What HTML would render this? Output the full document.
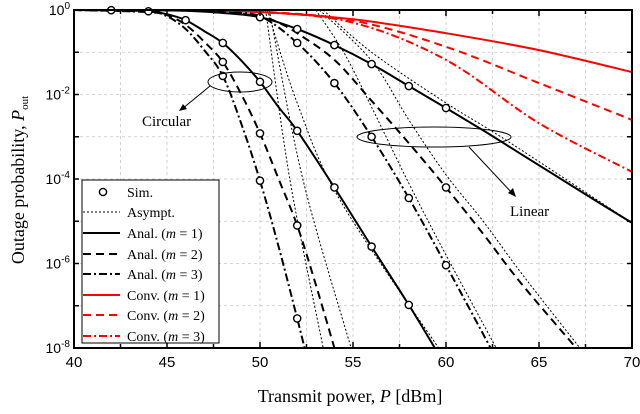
<!DOCTYPE html>
<html><head><meta charset="utf-8"><style>
body{margin:0;background:#fff}
svg text{font-family:"Liberation Serif",serif;fill:#000}
</style></head><body>
<svg id="c" width="640" height="409" viewBox="0 0 640 409" xmlns="http://www.w3.org/2000/svg">
<g id="grid"></g><g id="series"></g><g id="axes"></g><g id="ann"></g><g id="legend"></g>
</svg>
<script>
const xTicks=[40,45,50,55,60,65,70];
const yTickExp=[0,-2,-4,-6,-8];
// circular group (log10 Pout)
const circM1X=[40,42,44,45,46,47,48,49,50,51,52,54,56,58,59.4];
const circM1Y=[0,-0.005,-0.03,-0.1,-0.24,-0.5,-0.78,-1.2,-1.7,-2.3,-2.86,-4.2,-5.6,-6.98,-8];
const circM2X=[40,44,45,46,47,48,49,50,51,52,53,54];
const circM2Y=[0,-0.04,-0.12,-0.35,-0.75,-1.23,-2.0,-2.92,-4.0,-5.1,-6.5,-8];
const circM3X=[40,44,45,46,47,48,49,50,51,52,52.4];
const circM3Y=[0,-0.05,-0.15,-0.45,-0.95,-1.56,-2.7,-4.04,-5.6,-7.3,-8];
const circA1X=[50.4,52,54.3,59.6];const circA1Y=[0,-2.2,-4.5,-8];
const circA2X=[50.5,52.3,54.9];const circA2Y=[0,-4,-8];
const circA3X=[50.3,51.6,53.4];const circA3Y=[0,-4,-8];
// linear group
const linM1X=[40,44,46,48,50,52,54,56,58,60,62,64,66,68,70];
const linM1Y=[0,-0.005,-0.02,-0.07,-0.17,-0.45,-0.83,-1.28,-1.8,-2.32,-2.85,-3.4,-3.95,-4.5,-5.04];
const linM2X=[40,46,48,50,51,52,54,56,58,60,62,64,67];
const linM2Y=[0,-0.01,-0.05,-0.15,-0.3,-0.55,-1.18,-2.15,-3.15,-4.2,-5.3,-6.45,-8];
const linM3X=[40,46,48,50,52,54,56,58,60,62.4];
const linM3Y=[0,-0.01,-0.05,-0.15,-0.78,-1.73,-3.0,-4.45,-6.04,-8];
const linA1X=[53.4,56,60,63.3,70];const linA1Y=[0,-1.0,-2.2,-3.1,-5.04];
const linA2X=[53.2,56,58,60,62,64,67.2];const linA2Y=[0,-1.2,-2.6,-3.9,-5.0,-6.2,-8];
const linA3X=[53.0,54.5,56,58,60,62.7];const linA3Y=[0,-1.0,-2.3,-4.1,-5.8,-8];
// conventional
const convX=[40,45,50,55,60,65,70];
const conv1Y=[0,-0.01,-0.05,-0.22,-0.55,-0.95,-1.47];
const conv2Y=[0,-0.01,-0.04,-0.25,-0.87,-1.73,-2.6];
const conv3Y=[0,-0.01,-0.05,-0.3,-1.18,-2.68,-3.83];
// simulation markers
const simCircM1X=[42,44,46,48,50,52,54,56,58];
const simCircM2X=[48,50,52];
const simCircM3X=[48,50,52];
const simLinM1X=[50,52,54,56,58,60];
const simLinM2X=[60];
const simLinM3X=[52,54,56,58,60];

const L=74,R=632,T=10,B=348;
const sx=v=>L+(v-40)*(R-L)/30;
const sy=e=>T+(-e)*(B-T)/8;
const NS="http://www.w3.org/2000/svg";
function mk(tag,attrs,parent){const e=document.createElementNS(NS,tag);for(const k in attrs)e.setAttribute(k,attrs[k]);document.getElementById(parent).appendChild(e);return e;}
function interp(xs,ys,x){for(let i=0;i<xs.length-1;i++){if(x>=xs[i]&&x<=xs[i+1]){return ys[i]+(ys[i+1]-ys[i])*(x-xs[i])/(xs[i+1]-xs[i]);}}return ys[ys.length-1];}

for(let v=40;v<=70;v+=2.5){const l=mk('line',{x1:sx(v),x2:sx(v),y1:T,y2:B,stroke:'#c8c8c8','stroke-width':0.8,'stroke-dasharray':'3,3'},'grid');

}
for(let e=-1;e>=-7;e--){const l=mk('line',{x1:L,x2:R,y1:sy(e),y2:sy(e),stroke:'#c8c8c8','stroke-width':0.8,'stroke-dasharray':'3,3'},'grid');

}

function line(xs,ys,color,dash,w,name){
  const P=xs.map((x,i)=>[sx(x),sy(ys[i])]);
  let d='M'+P[0][0].toFixed(1)+','+P[0][1].toFixed(1);
  for(let i=0;i<P.length-1;i++){
    const p0=P[Math.max(0,i-1)],p1=P[i],p2=P[i+1],p3=P[Math.min(P.length-1,i+2)];
    const c1=[p1[0]+(p2[0]-p0[0])/6,p1[1]+(p2[1]-p0[1])/6];
    const c2=[p2[0]-(p3[0]-p1[0])/6,p2[1]-(p3[1]-p1[1])/6];
    d+='C'+c1.map(v=>v.toFixed(1)).join(',')+' '+c2.map(v=>v.toFixed(1)).join(',')+' '+p2.map(v=>v.toFixed(1)).join(',');
  }
  const p=mk('path',{d:d,fill:'none',stroke:color,'stroke-width':w,'stroke-dasharray':dash,'stroke-linejoin':'round'},'series');
  
  
}
line(circA1X,circA1Y,'#000','2,2',1,'asympt-circular-m1');
line(circA2X,circA2Y,'#000','2,2',1,'asympt-circular-m2');
line(circA3X,circA3Y,'#000','2,2',1,'asympt-circular-m3');
line(linA1X,linA1Y,'#000','2,2',1,'asympt-linear-m1');
line(linA2X,linA2Y,'#000','2,2',1,'asympt-linear-m2');
line(linA3X,linA3Y,'#000','2,2',1,'asympt-linear-m3');
line(convX,conv1Y,'#f00','',2,'conv-m1');
line(convX,conv2Y,'#f00','8,5',2,'conv-m2');
line(convX,conv3Y,'#f00','8,3,2,3',2,'conv-m3');
line(circM1X,circM1Y,'#000','',2,'anal-circular-m1');
line(circM2X,circM2Y,'#000','8,5',2,'anal-circular-m2');
line(circM3X,circM3Y,'#000','8,3,2,3',2,'anal-circular-m3');
line(linM1X,linM1Y,'#000','',2,'anal-linear-m1');
line(linM2X,linM2Y,'#000','8,5',2,'anal-linear-m2');
line(linM3X,linM3Y,'#000','8,3,2,3',2,'anal-linear-m3');

function sims(xs,cx,cy,name){xs.forEach(x=>{const c=mk('circle',{cx:sx(x),cy:sy(interp(cx,cy,x)),r:3.6,fill:'#fff',stroke:'#000','stroke-width':1.4},'series');

});}
sims(simCircM1X,circM1X,circM1Y,'sim-marker-circular-m1');
sims(simCircM2X,circM2X,circM2Y,'sim-marker-circular-m2');
sims(simCircM3X,circM3X,circM3Y,'sim-marker-circular-m3');
sims(simLinM1X,linM1X,linM1Y,'sim-marker-linear-m1');
sims(simLinM2X,linM2X,linM2Y,'sim-marker-linear-m2');
sims(simLinM3X,linM3X,linM3Y,'sim-marker-linear-m3');

const fr=mk('rect',{x:L,y:T,width:R-L,height:B-T,fill:'none',stroke:'#000','stroke-width':2},'axes');


for(let v=40;v<=70;v+=2.5){const len=(v%5===0)?6:4;mk('line',{x1:sx(v),x2:sx(v),y1:B,y2:B-len,stroke:'#000','stroke-width':1.5},'axes');mk('line',{x1:sx(v),x2:sx(v),y1:T,y2:T+len,stroke:'#000','stroke-width':1.5},'axes');}
for(let e=0;e>=-8;e--){mk('line',{x1:L,x2:L+5,y1:sy(e),y2:sy(e),stroke:'#000','stroke-width':1.5},'axes');mk('line',{x1:R,x2:R-5,y1:sy(e),y2:sy(e),stroke:'#000','stroke-width':1.5},'axes');}
xTicks.forEach(v=>{const t=mk('text',{x:sx(v),y:B+19,'text-anchor':'middle','font-size':15,style:'font-family:"Liberation Sans",sans-serif'},'axes');t.textContent=v;

});
yTickExp.forEach(e=>{const t=mk('text',{x:L-4,y:sy(e)+5,'text-anchor':'end','font-size':14,style:'font-family:"Liberation Sans",sans-serif'},'axes');
t.innerHTML='10<tspan dy="-6" font-size="10">'+e+'</tspan>';

});
</script>
<svg width="640" height="409" style="position:absolute;left:0;top:0;pointer-events:none">
<text x="350" y="402" text-anchor="middle" font-size="18">Transmit power, <tspan font-style="italic">P</tspan> [dBm]</text>
<text transform="translate(24,180) rotate(-90)" text-anchor="middle" font-size="18">Outage probability, <tspan font-style="italic">P</tspan><tspan font-size="11" dy="4">out</tspan></text>
<ellipse cx="240" cy="82" rx="32" ry="10" fill="none" stroke="#000" stroke-width="1"/>
<line x1="210" y1="86" x2="182" y2="109" stroke="#000" stroke-width="1"/>
<polygon points="179,111 183,104 187,109" fill="#000"/>
<text x="142" y="126" font-size="15">Circular</text>
<ellipse cx="434" cy="137" rx="77" ry="10" fill="none" stroke="#000" stroke-width="1"/>
<line x1="469" y1="147" x2="513" y2="194" stroke="#000" stroke-width="1"/>
<polygon points="516,197 508,193 513,188" fill="#000"/>
<text x="510" y="216" font-size="15">Linear</text>
<g>
<rect x="82" y="180" width="137" height="163" fill="#fff" stroke="#000" stroke-width="1"/>
<circle cx="103" cy="192" r="3.6" fill="#fff" stroke="#000" stroke-width="1.4"/>
<text x="127" y="197" font-size="14">Sim.</text>
<line x1="83" y1="212" x2="120" y2="212" stroke="#000" stroke-width="1" stroke-dasharray="2,2"/>
<text x="127" y="217" font-size="14">Asympt.</text>
<line x1="83" y1="233" x2="120" y2="233" stroke="#000" stroke-width="2"/>
<text x="127" y="238" font-size="14">Anal. (<tspan font-style="italic">m</tspan> = 1)</text>
<line x1="83" y1="254" x2="120" y2="254" stroke="#000" stroke-width="2" stroke-dasharray="8,5"/>
<text x="127" y="259" font-size="14">Anal. (<tspan font-style="italic">m</tspan> = 2)</text>
<line x1="83" y1="274" x2="120" y2="274" stroke="#000" stroke-width="2" stroke-dasharray="8,3,2,3"/>
<text x="127" y="279" font-size="14">Anal. (<tspan font-style="italic">m</tspan> = 3)</text>
<line x1="83" y1="295" x2="120" y2="295" stroke="#f00" stroke-width="2"/>
<text x="127" y="300" font-size="14">Conv. (<tspan font-style="italic">m</tspan> = 1)</text>
<line x1="83" y1="315" x2="120" y2="315" stroke="#f00" stroke-width="2" stroke-dasharray="8,5"/>
<text x="127" y="320" font-size="14">Conv. (<tspan font-style="italic">m</tspan> = 2)</text>
<line x1="83" y1="336" x2="120" y2="336" stroke="#f00" stroke-width="2" stroke-dasharray="8,3,2,3"/>
<text x="127" y="341" font-size="14">Conv. (<tspan font-style="italic">m</tspan> = 3)</text>
</g>
</svg>
</body></html>
